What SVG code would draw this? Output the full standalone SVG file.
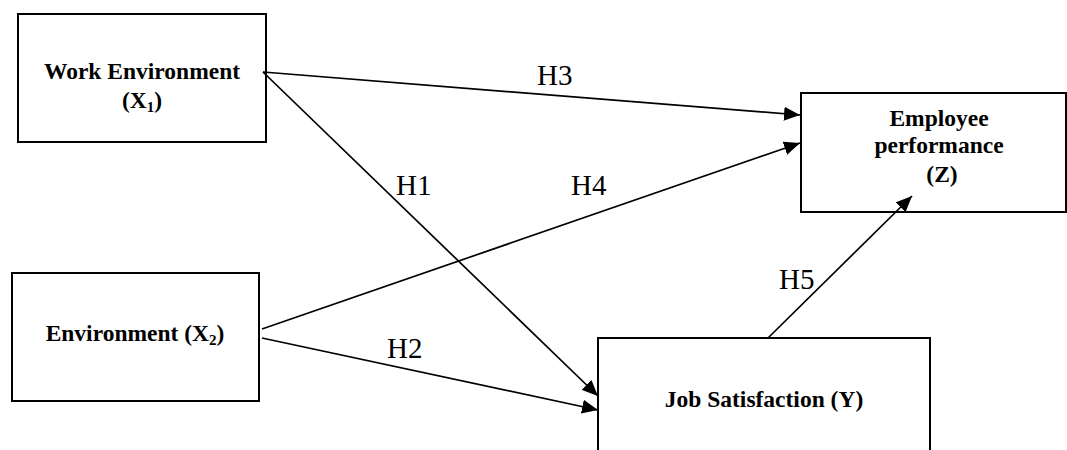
<svg xmlns="http://www.w3.org/2000/svg" width="1067" height="450" viewBox="0 0 1067 450">
<style>
.box{fill:#fff;stroke:#000;stroke-width:2}
.lbl{font-family:"Liberation Serif","Times New Roman",serif;font-weight:bold;font-size:23.5px;fill:#000;text-anchor:middle}
.h{font-family:"Liberation Serif","Times New Roman",serif;font-size:29px;fill:#000}
.sub{font-size:15px}
.conn line{stroke:#000;stroke-width:1.7;fill:none}
</style>
<defs>
<marker id="arr" markerUnits="userSpaceOnUse" markerWidth="17" markerHeight="14" refX="16" refY="7" orient="auto">
<path d="M0,0 L16,7 L0,14 z" fill="#000"/>
</marker>
</defs>
<rect width="1067" height="450" fill="#fff"/>
<g id="node-x1">
<rect class="box" x="18" y="14" width="248" height="128"/>
<text class="lbl" x="142" y="79">Work Environment</text>
<text class="lbl" x="142" y="108">(X<tspan class="sub" dy="4">1</tspan><tspan dy="-4">)</tspan></text>
</g>
<g id="node-x2">
<rect class="box" x="12" y="273" width="247" height="128"/>
<text class="lbl" x="135" y="341">Environment (X<tspan class="sub" dy="4">2</tspan><tspan dy="-4">)</tspan></text>
</g>
<g id="node-z">
<rect class="box" x="801" y="93" width="265" height="119"/>
<text class="lbl" x="939" y="126">Employee</text>
<text class="lbl" x="939" y="153">performance</text>
<text class="lbl" x="942" y="182">(Z)</text>
</g>
<g id="node-y">
<rect class="box" x="598" y="338" width="332" height="130"/>
<text class="lbl" x="764" y="407">Job Satisfaction (Y)</text>
</g>
<g id="connectors" class="conn">
<line x1="263" y1="72" x2="800" y2="115" marker-end="url(#arr)"/>
<line x1="263" y1="72" x2="598" y2="396" marker-end="url(#arr)"/>
<line x1="262" y1="329" x2="800" y2="143" marker-end="url(#arr)"/>
<line x1="262" y1="338" x2="598" y2="410" marker-end="url(#arr)"/>
<line x1="768" y1="338" x2="912" y2="196" marker-end="url(#arr)"/>
</g>
<g id="labels">
<text class="h" x="537" y="85">H3</text>
<text class="h" x="396" y="195">H1</text>
<text class="h" x="571" y="195">H4</text>
<text class="h" x="387" y="358">H2</text>
<text class="h" x="779" y="289">H5</text>
</g>
</svg>
